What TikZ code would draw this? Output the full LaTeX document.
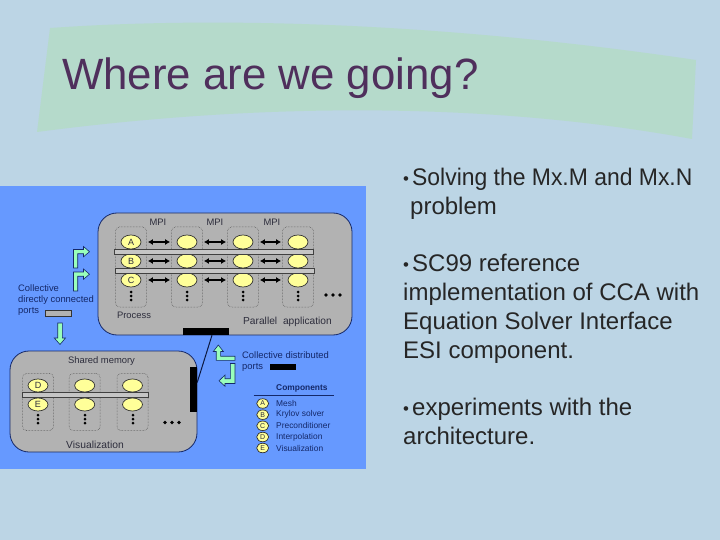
\documentclass[tikz,border=0pt]{standalone}
\usepackage{fontspec}
\setmainfont{Liberation Sans}
\usetikzlibrary{arrows.meta,positioning,shapes.geometric}
\definecolor{slidebg}{RGB}{188,213,229}
\definecolor{bannercol}{RGB}{181,218,203}
\definecolor{titlecol}{RGB}{79,47,92}
\definecolor{panelcol}{RGB}{102,153,255}
\definecolor{boxgray}{RGB}{178,178,178}
\definecolor{navycol}{RGB}{20,40,105}
\definecolor{compcol}{RGB}{255,255,153}
\definecolor{portcol}{RGB}{153,255,187}
\definecolor{labelcol}{RGB}{45,45,60}
\tikzset{
  bigbox/.style={draw=navycol,fill=boxgray,line width=0.8pt,rounded corners=19pt,minimum width=254pt},
  procbox/.style={draw=black!70,densely dotted,line width=0.5pt,rounded corners=4pt,minimum width=31pt},
  comp/.style={ellipse,draw=black!80,fill=compcol,line width=0.7pt,minimum width=20pt,minimum height=14pt,inner sep=0pt,font=\fontsize{9}{9}\selectfont,text=labelcol},
  legendcomp/.style={comp,minimum width=12pt,minimum height=9.5pt,font=\fontsize{7}{7}\selectfont},
  memorybar/.style={draw=black!75,fill=boxgray!75,line width=0.6pt,minimum height=4.6pt,inner sep=0pt},
  mpilink/.style={{Latex[length=5pt,width=6pt]}-{Latex[length=5pt,width=6pt]},line width=1.1pt,black},
  portarrow/.style={draw=navycol,fill=portcol,line width=0.6pt,line join=miter},
  inpanel/.style={font=\fontsize{9.4}{11.2}\selectfont,text=navycol,inner sep=0pt,align=left},
  inbox/.style={font=\fontsize{9.4}{11}\selectfont,text=labelcol,inner sep=0pt},
  blackport/.style={fill=black,inner sep=0pt},
  grayport/.style={draw=black!80,fill=boxgray,line width=0.5pt,inner sep=0pt},
  slidetext/.style={font=\fontsize{24}{29}\selectfont,text=black!85,anchor=north west,inner sep=0pt,align=left}
}
\newcommand{\vdotsat}[2]{\fill (#1,#2-4) circle (1.5) (#1,#2) circle (1.5) (#1,#2+4) circle (1.5);}
\newcommand{\hdotsat}[2]{\fill (#1-7,#2) circle (1.8) (#1,#2) circle (1.8) (#1+7,#2) circle (1.8);}
\newcommand{\bulletmark}{\makebox[9pt][l]{\raisebox{1pt}{\scalebox{0.7}{•}}}}
\begin{document}
\begin{tikzpicture}[x=1pt,y=-1pt]
  \useasboundingbox (0,0) rectangle (720,540);
  \fill[slidebg] (0,0) rectangle (720,540);
  % title banner
  \fill[bannercol] (50,28) .. controls (250,14) and (480,28) .. (696,60) -- (692,139)
    .. controls (480,100) and (250,104) .. (37,132) -- cycle;
  \node[font=\fontsize{43.8}{46}\selectfont,text=titlecol,anchor=west,inner sep=0pt] (title) at (62,78) {Where are we going?};
  % bullet text
  \node[slidetext] (bulletone) at (403,168) {\bulletmark\scalebox{0.955}[1]{Solving the Mx.M and Mx.N}\\\hspace*{7pt}problem};
  \node[slidetext] (bullettwo) at (403,254) {\bulletmark SC99 reference\\implementation of CCA with\\Equation Solver Interface\\ESI component.};
  \node[slidetext] (bulletthree) at (403,398) {\bulletmark experiments with the\\architecture.};
  % blue panel
  \fill[panelcol] (0,186) rectangle (366,469);
  % parallel application
  \node[bigbox,minimum height=122pt] (parallel) at (225,274) {};
  \node[procbox,minimum height=80pt] (proc1) at (131,267) {};
  \node[comp] (a1) at (131,242) {A};
  \node[comp] (b1) at (131,261) {B};
  \node[comp] (c1) at (131,280) {C};
  \foreach \col/\cx in {2/187,3/243,4/298} {
    \node[procbox,minimum height=80pt] (proc\col) at (\cx,267) {};
    \node[comp] (a\col) at (\cx,242) {};
    \node[comp] (b\col) at (\cx,261) {};
    \node[comp] (c\col) at (\cx,280) {};
  }
  \foreach \row in {a,b,c}
    \foreach \i/\j in {1/2,2/3,3/4}
      \draw[mpilink,shorten >=6.5pt,shorten <=6.5pt] (\row\i) -- (\row\j);
  \foreach \cx in {131,187,243,298} { \vdotsat{\cx}{296} }
  \hdotsat{333}{295}
  \node[memorybar,minimum width=199pt] (bartop) at (213.5,251.5) {};
  \node[memorybar,minimum width=199pt] (barlow) at (214.5,271) {};
  \node[inbox] (mpione) at (158,222) {MPI};
  \node[inbox] (mpitwo) at (215,222) {MPI};
  \node[inbox] (mpithree) at (272,222) {MPI};
  \node[inbox] (process) at (134,315) {Process};
  \node[inbox,font=\fontsize{10.2}{11}\selectfont] (parlabel) at (287.5,322) {Parallel\hspace{3pt} application};
  % shared memory
  \node[bigbox,minimum width=187pt,minimum height=101pt] (shared) at (103.5,401.5) {};
  \node[inbox] (memlabel) at (101.5,361.5) {Shared memory};
  \node[procbox,minimum height=57pt] (vis1) at (38,402) {};
  \node[comp,minimum height=13pt] (d1) at (38,385.5) {D};
  \node[comp,minimum height=13pt] (e1) at (38,404.5) {E};
  \foreach \col/\cx in {2/84.7,3/132.5} {
    \node[procbox,minimum height=57pt] (vis\col) at (\cx,402) {};
    \node[comp,minimum height=13pt] (d\col) at (\cx,385.5) {};
    \node[comp,minimum height=13pt] (e\col) at (\cx,404.5) {};
  }
  \foreach \cx in {38,85,133} { \vdotsat{\cx}{419} }
  \hdotsat{172}{422.5}
  \node[memorybar,minimum width=126pt] (barshared) at (85.7,395) {};
  \node[inbox,font=\fontsize{10.3}{11}\selectfont] (vislabel) at (95,444.5) {Visualization};
  % distributed ports
  \node[blackport,minimum width=46pt,minimum height=7pt] (distbar) at (206,331.5) {};
  \node[blackport,minimum width=7pt,minimum height=45pt] (visbar) at (193.5,389.5) {};
  \draw[navycol!60!black,line width=1pt] ([xshift=6pt]distbar.south) -- ([yshift=7pt]visbar.east);
  % green arrows
  \draw[portarrow] (73.5,268) -- (73.5,249.5) -- (83.5,249.5) -- (83.5,246.5) -- (89.5,251.7) -- (83.5,256.8) -- (83.5,253.7) -- (77.7,253.7) -- (77.7,268) -- cycle;
  \draw[portarrow] (73.5,291) -- (73.5,272) -- (83.5,272) -- (83.5,269) -- (89.5,274.2) -- (83.5,279.3) -- (83.5,276.2) -- (77.7,276.2) -- (77.7,291) -- cycle;
  \draw[portarrow] (57.7,323) -- (57.7,338) -- (54.3,338) -- (60,344.5) -- (65.5,338) -- (62.3,338) -- (62.3,323) -- cycle;
  \draw[portarrow] (218.3,345) -- (213.3,351.5) -- (216.2,351.5) -- (216.2,360.3) -- (235,360.3) -- (235,356.2) -- (220.6,356.2) -- (220.6,351.5) -- (223.4,351.5) -- cycle;
  \draw[portarrow] (230.3,363.5) -- (235,363.5) -- (235,383.5) -- (225,383.5) -- (225,386.3) -- (219,380.8) -- (225,375) -- (225,378.7) -- (230.3,378.7) -- cycle;
  % labels on the panel
  \node[inpanel,anchor=north west] (directlabel) at (18,284.5) {Collective\\directly connected\\ports};
  \node[grayport,minimum width=25.5pt,minimum height=6pt] (grayport) at (58,313) {};
  \node[inpanel,anchor=north west] (distlabel) at (242,351.5) {Collective distributed\\ports};
  \node[blackport,minimum width=26pt,minimum height=6.5pt] (blackkey) at (282.5,367.2) {};
  % legend
  \node[inpanel,font=\fontsize{8.4}{9}\bfseries\selectfont,anchor=west] (legendtitle) at (276,388.5) {Components};
  \coordinate (legendleft) at (253.5,395.5);
  \coordinate (legendright) at (333.5,395.5);
  \draw[navycol,line width=0.7pt] (legendleft) -- (legendright);
  \foreach \key/\lab/\txt/\cy in {ka/A/Mesh/403.5,kb/B/Krylov solver/414.7,kc/C/Preconditioner/425.8,kd/D/Interpolation/437,ke/E/Visualization/448} {
    \node[legendcomp] (\key) at (262.7,\cy) {\lab};
    \node[inpanel,font=\fontsize{8.4}{9}\selectfont,anchor=west] (\key txt) at (276,\cy) {\txt};
  }
\end{tikzpicture}
\end{document}
